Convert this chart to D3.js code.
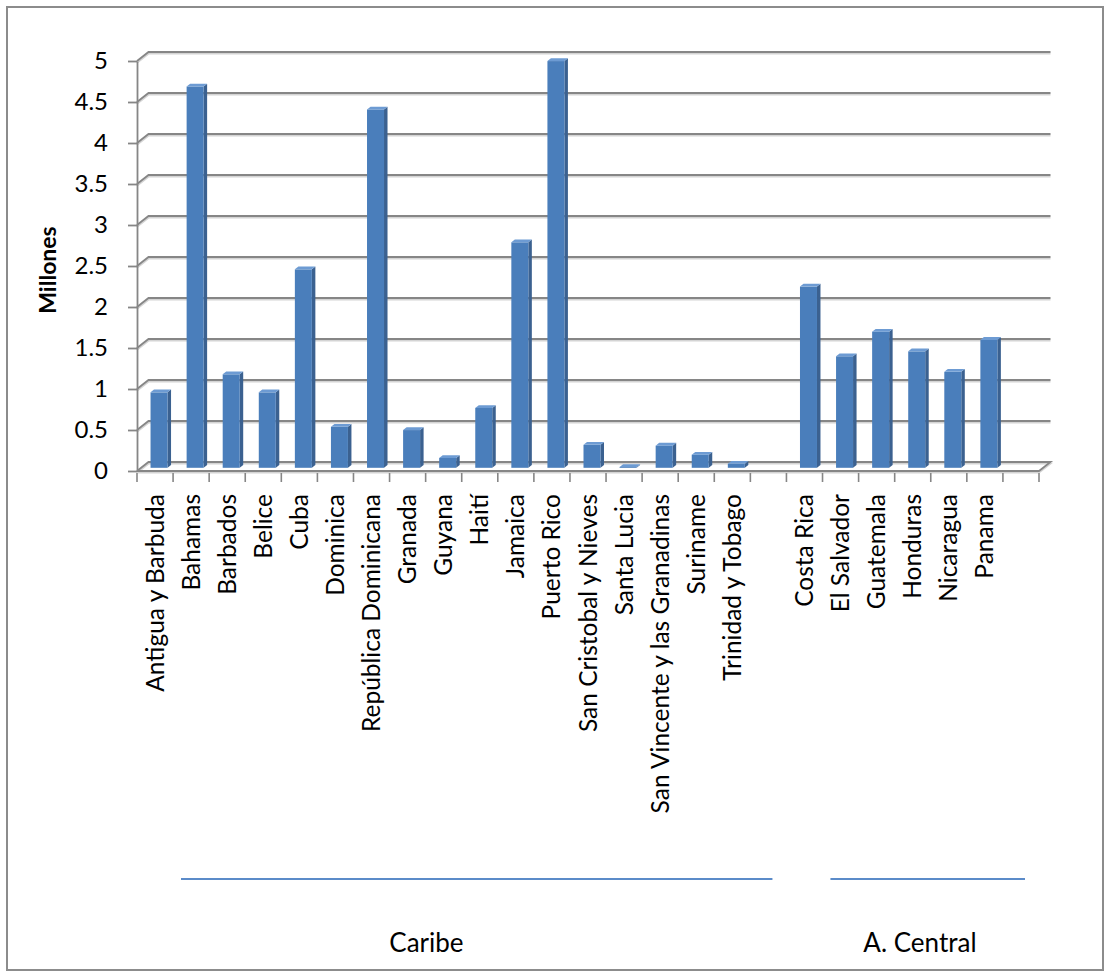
<!DOCTYPE html>
<html lang="es">
<head>
  <meta charset="UTF-8">
  <title>Millones - Caribe y A. Central</title>
  <script src="https://d3js.org/d3.v7.min.js"></script>
  <style>
    body { margin: 0; background: #fff; }
    text { font-family: Lato, "Open Sans", sans-serif; fill: #000; }
  </style>
</head>
<body>
  <div id="chart"></div>
  <script>
    // datos
    var caribe = ["Antigua y Barbuda", "Bahamas", "Barbados", "Belice", "Cuba", "Dominica",
      "República Dominicana", "Granada", "Guyana", "Haití", "Jamaica", "Puerto Rico",
      "San Cristobal y Nieves", "Santa Lucia", "San Vincente y las Granadinas", "Suriname",
      "Trinidad y Tobago"];
    var caribeValues = [0.92, 4.65, 1.14, 0.92, 2.42, 0.50, 4.37, 0.46, 0.12, 0.73, 2.75, 4.96,
      0.28, 0.01, 0.27, 0.16, 0.05];
    var central = ["Costa Rica", "El Salvador", "Guatemala", "Honduras", "Nicaragua", "Panama"];
    var centralValues = [2.21, 1.36, 1.66, 1.42, 1.17, 1.56];
    var groups = ["Caribe", "A. Central"];
    var yTicks = [0, 0.5, 1, 1.5, 2, 2.5, 3, 3.5, 4, 4.5, 5];
    var yTickLabels = ["0", "0.5", "1", "1.5", "2", "2.5", "3", "3.5", "4", "4.5", "5"];

    // cada grupo lleva un hueco vacio al final
    var slots = [];
    caribe.forEach(function (c, i) { slots.push({ name: c, value: caribeValues[i] }); });
    slots.push({ name: "", value: null });
    central.forEach(function (c, i) { slots.push({ name: c, value: centralValues[i] }); });
    slots.push({ name: "", value: null });
    var groupSpans = [[0, caribe.length + 1], [caribe.length + 1, slots.length]];

    var W = 1110, H = 978;
    var depthX = 11.5, depthY = -9;      // fondo del grafico 3D
    var barShiftX = 4, barShiftY = -3.2;  // barras a media profundidad
    var barW = 17, barDX = 3.5, barDY = -2.8;

    var x = d3.scaleBand().domain(d3.range(slots.length)).range([137, 1039]);
    var y = d3.scaleLinear().domain([0, 5]).range([471, 61]);
    var x0 = x.range()[0], x1 = x.range()[1];

    var svg = d3.select("#chart").append("svg")
      .attr("width", W)
      .attr("height", H);

    svg.append("rect")
      .attr("x", 7).attr("y", 7)
      .attr("width", 1096).attr("height", 963)
      .attr("fill", "#fff")
      .attr("stroke", "#8c8c8c")
      .attr("stroke-width", 2);

    // paredes: lineas de cuadricula con sombra
    var grid = svg.append("g").attr("class", "grid");
    yTicks.forEach(function (t) {
      var yf = y(t), yb = y(t) + depthY;
      var pts = t === 0
        ? [[x0, yf], [x1, yf], [x1 + depthX, yb], [x0 + depthX, yb], [x0, yf]]
        : [[x0, yf], [x0 + depthX, yb], [x1 + depthX, yb]];
      grid.append("path")
        .attr("d", d3.line()(pts.map(function (p) { return [p[0], p[1] + 1.7]; })))
        .attr("fill", "none")
        .attr("stroke", "#d4d4d4")
        .attr("stroke-width", 1.8);
      grid.append("path")
        .attr("d", d3.line()(pts))
        .attr("fill", "none")
        .attr("stroke", "#868686")
        .attr("stroke-width", 1.8);
    });

    // eje Y
    var yAxis = d3.axisLeft(y)
      .tickValues(yTicks)
      .tickFormat(function (d, i) { return yTickLabels[i]; })
      .tickSize(9)
      .tickSizeOuter(0)
      .tickPadding(20);
    var ya = svg.append("g")
      .attr("transform", "translate(" + x0 + ",0)")
      .call(yAxis);
    ya.select(".domain").attr("stroke", "#868686").attr("stroke-width", 1.8);
    ya.selectAll(".tick line").attr("stroke", "#868686").attr("stroke-width", 1.8);
    ya.selectAll(".tick text")
      .style("font-family", "Lato, sans-serif")
      .style("font-size", "24px")
      .attr("fill", "#000");

    // marcas del eje X
    svg.append("g").selectAll("line")
      .data(d3.range(slots.length + 1))
      .enter().append("line")
      .attr("x1", function (i) { return x0 + i * x.step(); })
      .attr("x2", function (i) { return x0 + i * x.step(); })
      .attr("y1", y(0) + 2)
      .attr("y2", y(0) + 11)
      .attr("stroke", "#868686")
      .attr("stroke-width", 1.6);

    // barras 3D
    var bars = svg.append("g").selectAll("g")
      .data(slots.map(function (d, i) { return { i: i, value: d.value }; })
        .filter(function (d) { return d.value !== null; }))
      .enter().append("g");

    function bx(d) { return x(d.i) + x.bandwidth() / 2 - barW / 2 + barShiftX; }
    function btop(d) { return y(d.value) + barShiftY; }
    var base = y(0) + barShiftY;

    bars.append("path")
      .attr("d", function (d) {
        var l = bx(d) + barW, t = btop(d);
        return d3.line()([[l, t], [l + barDX, t + barDY], [l + barDX, base + barDY], [l, base]]) + "Z";
      })
      .attr("fill", "#3b6190");
    bars.append("rect")
      .attr("x", bx)
      .attr("y", btop)
      .attr("width", barW)
      .attr("height", function (d) { return base - btop(d); })
      .attr("fill", "#4a7ebb");
    bars.append("path")
      .attr("d", function (d) {
        var l = bx(d), t = btop(d);
        return d3.line()([[l, t], [l + barDX, t + barDY], [l + barW + barDX, t + barDY], [l + barW, t]]) + "Z";
      })
      .attr("fill", "#6d9bd3");

    // etiquetas de categorias
    svg.append("g").selectAll("text")
      .data(slots.map(function (d, i) { return { i: i, name: d.name }; }))
      .enter().append("text")
      .attr("transform", function (d) {
        return "translate(" + (x(d.i) + x.bandwidth() / 2) + ",494) rotate(-90)";
      })
      .attr("dy", "0.35em")
      .attr("text-anchor", "end")
      .style("font-size", "24.5px")
      .text(function (d) { return d.name; });

    // titulo del eje
    svg.append("text")
      .attr("transform", "translate(48," + ((y(0) + y(5)) / 2 + 4) + ") rotate(-90)")
      .attr("dy", "0.35em")
      .attr("text-anchor", "middle")
      .style("font-size", "23px")
      .style("font-weight", "bold")
      .text("Millones");

    // grupos
    var groupLabelFrac = [0.415, 0.46];
    groups.forEach(function (g, k) {
      var s = x0 + groupSpans[k][0] * x.step() + 44;
      var e = x0 + groupSpans[k][1] * x.step() - 14;
      svg.append("line")
        .attr("x1", s).attr("x2", e)
        .attr("y1", 879).attr("y2", 879)
        .attr("stroke", "#5b8bc9")
        .attr("stroke-width", 2);
      svg.append("text")
        .attr("x", s + (e - s) * groupLabelFrac[k])
        .attr("y", 943)
        .attr("dy", "0.35em")
        .attr("text-anchor", "middle")
        .style("font-size", "26px")
        .text(g);
    });
  </script>
</body>
</html>
